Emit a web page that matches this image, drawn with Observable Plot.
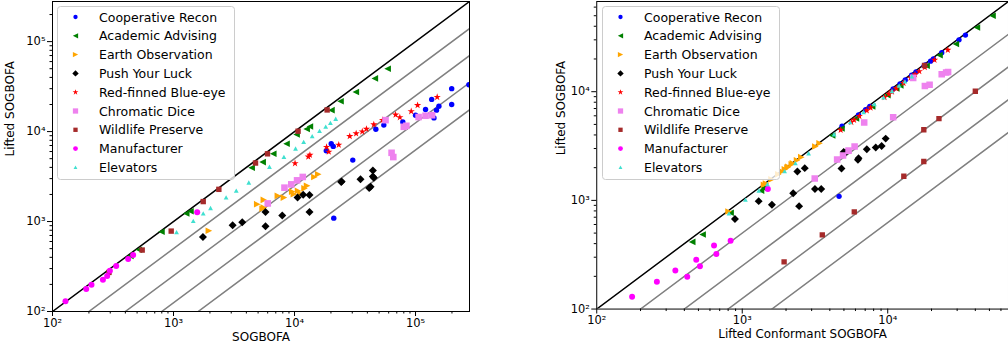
<!DOCTYPE html>
<html><head><meta charset="utf-8">
<script src="https://cdn.jsdelivr.net/npm/d3@7"></script>
<script src="https://cdn.jsdelivr.net/npm/@observablehq/plot@0.6"></script>
<style>
body{margin:0;background:#fff;overflow:hidden;}
#wrap{position:relative;width:1008px;height:353px;overflow:hidden;font-family:"DejaVu Sans",sans-serif;}
.panel{position:absolute;top:0;}
.legend{position:absolute;top:0;}
</style>
</head><body>
<div id="wrap"><div id="left" class="panel" style="left:0px"></div><div id="right" class="panel" style="left:500px"></div></div>
<script>
// ---------------- DATA ----------------
const benchmarks = ["Cooperative Recon","Academic Advising","Earth Observation","Push Your Luck","Red-finned Blue-eye","Chromatic Dice","Wildlife Preserve","Manufacturer","Elevators"];

const coopLifted     = [6120, 7310, 6840, 4820, 10600, 11800, 12800, 15200, 17600, 22800, 14200, 17300, 19100, 30000, 20000, 33200, 1090];
const coopSogbofa    = [18300, 20100, 20900, 30300, 47000, 54700, 78500, 100000, 121000, 136000, 142000, 149000, 156000, 199000, 199000, 276000, 21100];
const coopConformant = [6300, 7530, 7050, 4850, 10900, 12150, 13200, 15650, 18100, 23500, 14600, 17800, 19700, 30900, 20600, 34200, 4630];

const acadLifted     = [415, 486, 769, 1227, 1300, 3960, 4580, 5660, 7310, 9300, 10700, 11400, 17300, 21700, 27500, 39000, 50000];
const acadSogbofa    = [440, 517, 795, 1273, 1380, 4420, 5450, 6670, 8590, 10400, 12600, 13400, 20200, 24000, 32100, 46100, 58800];
const acadConformant = [453, 534, 832, 1346, 1400, 4150, 4810, 6050, 7820, 9950, 11450, 12200, 18500, 22700, 29400, 41000, 52500];

const earthLifted     = [789, 1390, 1430, 1560, 1740, 1845, 1930, 2010, 2040, 2150, 2190, 2340, 2500, 3130, 3350];
const earthSogbofa    = [1960, 5450, 5570, 4920, 5580, 8170, 7280, 9870, 11200, 9570, 10700, 12100, 12700, 14600, 15700];
const earthConformant = [805, 1410, 1455, 1590, 1770, 1880, 1965, 2045, 2075, 2190, 2230, 2380, 2545, 3180, 3400];

const pushLifted     = [673, 910, 984, 1274, 885, 1165, 1845, 1980, 1967, 1274, 2750, 2790, 2950, 3700, 3160, 3060, 2360, 2440];
const pushSogbofa    = [1750, 3080, 3700, 5760, 5760, 7920, 10600, 11800, 13300, 13300, 24300, 24500, 35100, 44400, 44400, 45200, 41400, 42500];
const pushConformant = [891, 1600, 1297, 3160, 2460, 2240, 2393, 2690, 4810, 3490, 5120, 4980, 7180, 9680, 9080, 8270, 6240, 6300];

const redLifted     = [5490, 5250, 5960, 6710, 7120, 8890, 9520, 10000, 10700, 12000, 15400, 14400, 16800, 19600, 24200, 13400, 4440];
const redSogbofa    = [13400, 13000, 19200, 18400, 23200, 28600, 32300, 36300, 39300, 45200, 68400, 74200, 92100, 104000, 151000, 53400, 10100];
const redConformant = [5870, 5620, 6380, 7180, 7620, 9510, 10190, 10700, 11450, 12840, 16480, 15410, 17980, 20970, 25890, 14340, 4750];

const diceLifted     = [1590, 2380, 2590, 2870, 3130, 5810, 5210, 13400, 11300, 11600, 14500, 15000, 15200];
const diceSogbofa    = [6010, 8260, 9400, 10500, 11700, 63400, 65500, 56500, 80000, 84000, 106000, 121000, 137000];
const diceConformant = [3150, 4490, 4930, 5380, 5920, 10900, 6890, 14960, 18000, 19400, 23500, 25200, 26000];

const wildLifted     = [272, 482, 783, 1667, 2280, 4470, 5660, 10100, 17400];
const wildSogbofa    = [293, 551, 957, 1760, 2370, 4760, 5980, 10700, 18600];
const wildConformant = [1940, 3550, 5890, 12900, 17700, 17700, 22500, 40000, 17900];

const manuLifted     = [130, 178, 198, 226, 248, 284, 321, 384, 425, 1270];
const manuSogbofa    = [128, 190, 210, 261, 283, 298, 336, 422, 464, 1570];
const manuConformant = [175, 259, 419, 347, 512, 483, 664, 640, 832, 1500];

const elevLifted     = [757, 1010, 1227, 1406, 1845, 2190, 2700, 4040, 5210, 6440, 7640, 8830, 10100, 11300, 12400, 13800];
const elevSogbofa    = [1060, 1456, 1760, 2023, 2720, 3300, 4190, 6210, 8170, 10200, 11900, 14000, 16100, 18100, 19800, 21900];
const elevConformant = [811, 1052, 1300, 1490, 1955, 2320, 2860, 4280, 5520, 6830, 8100, 9360, 10700, 11980, 13140, 14630];

const ratioLines = [1, 2, 4, 8, 16];
const majorTicksLeft = [100, 1000, 10000, 100000];
const majorTicksRight = [100, 1000, 10000];

// ---------------- STYLE ----------------
const rOf = s => Math.sqrt(s / Math.PI);
const symbols = {
  circle: {draw(c, s){ const r = rOf(s); c.moveTo(r, 0); c.arc(0, 0, r, 0, 2 * Math.PI); }},
  leftTri: {draw(c, s){ const r = rOf(s); c.moveTo(-r, 0); c.lineTo(r, -r); c.lineTo(r, r); c.closePath(); }},
  rightTri: {draw(c, s){ const r = rOf(s); c.moveTo(r, 0); c.lineTo(-r, -r); c.lineTo(-r, r); c.closePath(); }},
  upTri: {draw(c, s){ const r = rOf(s); c.moveTo(0, -r); c.lineTo(r, r * 0.8); c.lineTo(-r, r * 0.8); c.closePath(); }},
  diamond: {draw(c, s){ const r = rOf(s); c.moveTo(0, -r); c.lineTo(r, 0); c.lineTo(0, r); c.lineTo(-r, 0); c.closePath(); }},
  square: {draw(c, s){ const r = rOf(s); c.rect(-r, -r, 2 * r, 2 * r); }},
  star: {draw(c, s){ const r = rOf(s), ri = r * 0.382;
    for (let k = 0; k < 10; k++) { const rr = k % 2 ? ri : r; const a = -Math.PI / 2 + k * Math.PI / 5;
      const px = rr * Math.cos(a), py = rr * Math.sin(a); if (k === 0) c.moveTo(px, py); else c.lineTo(px, py); }
    c.closePath(); }}
};
const seriesStyle = [
  {color: "#0000ff", symbol: symbols.circle, r: 2.7},
  {color: "#008000", symbol: symbols.leftTri, r: 3.3},
  {color: "#ffa500", symbol: symbols.rightTri, r: 3.3},
  {color: "#000000", symbol: symbols.diamond, r: 4},
  {color: "#ff0000", symbol: symbols.star, r: 3.8},
  {color: "#ee82ee", symbol: symbols.square, r: 3.3},
  {color: "#a52a2a", symbol: symbols.square, r: 2.7},
  {color: "#ff00ff", symbol: symbols.circle, r: 3},
  {color: "#40e0d0", symbol: symbols.upTri, r: 2.4}
];

const lifted = [coopLifted, acadLifted, earthLifted, pushLifted, redLifted, diceLifted, wildLifted, manuLifted, elevLifted];
const sogbofa = [coopSogbofa, acadSogbofa, earthSogbofa, pushSogbofa, redSogbofa, diceSogbofa, wildSogbofa, manuSogbofa, elevSogbofa];
const conformant = [coopConformant, acadConformant, earthConformant, pushConformant, redConformant, diceConformant, wildConformant, manuConformant, elevConformant];

const supDigits = {2: "²", 3: "³", 4: "⁴", 5: "⁵"};
const fmt = d => "10" + supDigits[Math.round(Math.log10(d))];
function minorTicks(max) {
  const out = [];
  for (let d = 100; d <= max; d *= 10) for (let m = 2; m <= 9; m++) if (d * m <= max) out.push(d * m);
  return out;
}

function panel({xs, xLabel, max, majors, width, marginLeft, marginRight, yLabelDx}) {
  const marks = [];
  for (const k of ratioLines) {
    marks.push(Plot.line([{x: 100, y: 100 / k}, {x: max, y: max / k}], {
      x: "x", y: "y", stroke: k === 1 ? "#000" : "#808080", strokeWidth: 1.5, clip: true
    }));
  }
  benchmarks.forEach((name, i) => {
    const data = lifted[i].map((y, j) => ({x: xs[i][j], y, name}));
    const st = seriesStyle[i];
    marks.push(Plot.dot(data, {x: "x", y: "y", fill: st.color, symbol: st.symbol, r: st.r, stroke: "none", clip: true}));
  });
  marks.push(Plot.frame({stroke: "#000", strokeWidth: 1}));
  const minors = minorTicks(max);
  marks.push(Plot.axisX({ticks: majors, tickFormat: fmt, tickSize: 5, tickPadding: 2, label: null, fontSize: 11.5}));
  marks.push(Plot.axisX({ticks: minors, tickFormat: () => "", tickSize: 2.5, label: null}));
  marks.push(Plot.axisY({ticks: majors, tickFormat: fmt, tickSize: 5, tickPadding: 2, label: null, fontSize: 11.5}));
  marks.push(Plot.axisY({ticks: minors, tickFormat: () => "", tickSize: 2.5, label: null}));
  marks.push(Plot.text([xLabel], {frameAnchor: "bottom", dy: 29, fontSize: 12, fill: "#000"}));
  marks.push(Plot.text(["Lifted SOGBOFA"], {frameAnchor: "left", dx: yLabelDx, rotate: -90, fontSize: 12, fill: "#000"}));
  return Plot.plot({
    width, height: 353, marginLeft, marginRight, marginTop: 1, marginBottom: 42,
    x: {type: "log", domain: [100, max]},
    y: {type: "log", domain: [100, max]},
    style: {fontFamily: "DejaVu Sans, sans-serif", fontSize: "11.5px", color: "#000", background: "transparent", overflow: "visible"},
    marks
  });
}

document.getElementById("left").appendChild(panel({
  xs: sogbofa, xLabel: "SOGBOFA", max: Math.pow(10, 5.446), majors: majorTicksLeft,
  width: 500, marginLeft: 52, marginRight: 31, yLabelDx: -42
}));
document.getElementById("right").appendChild(panel({
  xs: conformant, xLabel: "Lifted Conformant SOGBOFA", max: Math.pow(10, 4.83), majors: majorTicksRight,
  width: 512, marginLeft: 97, marginRight: 0, yLabelDx: -36
}));

// ---------------- LEGENDS ----------------
function legend(left) {
  const w = 177, h = 173;
  const svg = d3.select("#wrap").append("svg").attr("class", "legend")
    .attr("width", w + 2).attr("height", h + 2).style("left", (left - 1) + "px").style("top", "6px");
  svg.append("rect").attr("x", 0.5).attr("y", 0.5).attr("width", w).attr("height", h).attr("rx", 3)
    .attr("fill", "rgba(255,255,255,0.8)").attr("stroke", "#cccccc");
  benchmarks.forEach((name, i) => {
    const cy = 11 + i * 18.8, st = seriesStyle[i];
    const size = Math.PI * Math.pow(st.r * 0.8, 2);
    svg.append("path").attr("d", d3.symbol(st.symbol, size)()).attr("transform", `translate(18.5,${cy})`).attr("fill", st.color);
    svg.append("text").attr("x", 42).attr("y", cy).attr("dy", "0.36em").attr("font-size", 12.5)
      .attr("font-family", "DejaVu Sans, sans-serif").attr("fill", "#000").text(name);
  });
}
legend(58);
legend(603);
</script>
</body></html>
